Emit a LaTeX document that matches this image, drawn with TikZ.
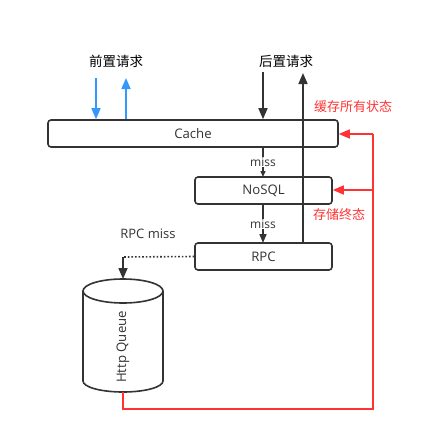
\documentclass[tikz,border=0pt]{standalone}
\usepackage{fontspec}
\setmainfont{Noto Sans CJK SC}
\newfontfamily\lat{Open Sans}
\usetikzlibrary{arrows.meta,shapes.geometric}
\definecolor{dk}{HTML}{333333}
\definecolor{bl}{HTML}{3399FF}
\definecolor{rd}{HTML}{FF3333}
\tikzset{
  box/.style={draw=dk,line width=1.6pt,rounded corners=3pt,inner sep=0pt,font=\lat\fontsize{13.2}{15}\selectfont,text=dk},
  lbl/.style={font=\fontsize{13.5}{16}\selectfont,text=black,inner sep=1pt},
  rlbl/.style={font=\fontsize{13}{15}\selectfont,text=rd,inner sep=1pt},
  mlbl/.style={font=\lat\fontsize{12}{14}\selectfont,text=dk,fill=white,inner sep=1pt},
  bigtip/.style={-{Triangle[length=11pt,width=9pt]}},
  blarrow/.style={draw=bl,line width=1.6pt,bigtip},
  dkarrow/.style={draw=dk,line width=1.6pt,bigtip},
  rdarrow/.style={draw=rd,line width=1.6pt,-{Triangle[length=11pt,width=9pt]}},
}
\begin{document}
\begin{tikzpicture}[x=1pt,y=-1pt]
\useasboundingbox (0,0) rectangle (427,442);
% boxes
\node[box,minimum width=290pt,minimum height=27pt] (cache) at (193,133.5) {Cache};
\node[box,minimum width=137pt,minimum height=27pt] (nosql) at (263.5,190.5) {NoSQL};
\node[box,minimum width=137pt,minimum height=27pt] (rpc) at (263.5,256.5) {RPC};
% cylinder
\draw[dk,line width=1.6pt,fill=white] (83,291) -- (83,381) arc[start angle=180,end angle=0,x radius=40,y radius=11] -- (163,291);
\draw[dk,line width=1.6pt,fill=white] (123,291) ellipse[x radius=40,y radius=12];
\node[rotate=90,font=\lat\fontsize{13.2}{15}\selectfont,text=dk] (hq) at (123,347) {Http Queue};
\coordinate (qtop) at (123,279);
\coordinate (qbot) at (123,392);
% labels
\node[lbl] (pre) at (116,61) {前置请求};
\node[lbl] (post) at (286,61) {后置请求};
\node[rlbl] (allst) at (353,107) {缓存所有状态};
\node[rlbl] (final) at (339,215) {存储终态};
\node[font=\lat\fontsize{13}{15}\selectfont,text=dk] (rpcmiss) at (148,234) {RPC miss};
% blue arrows
\coordinate (b1s) at (96,78);
\coordinate (b2e) at (126,78);
\draw[blarrow] (b1s) -- (b1s |- cache.north);
\draw[blarrow] (b2e |- cache.north) -- (b2e);
% black arrows
\coordinate (k1s) at (263,72);
\coordinate (k2e) at (303,73);
\draw[dkarrow] (k1s) -- (k1s |- cache.north);
\draw[dkarrow] (k2e |- rpc.north) -- (k2e);
% miss arrows
\draw[dk,line width=1.4pt,-{Triangle[length=6pt,width=5pt]}] (263,147) -- (263,177);
\node[mlbl] (m1) at (263,162) {miss};
\draw[dk,line width=1.6pt,-{Triangle[length=9pt,width=7pt]}] (263,204) -- (263,243);
\node[mlbl] (m2) at (263,224) {miss};
% RPC miss
\coordinate (rc) at (123,257);
\draw[dk,line width=1.6pt,dotted] (rpc.west) -- (rc);
\draw[dkarrow] (rc) -- (qtop);
% red feedback
\coordinate (r1) at (123,409);
\coordinate (r2) at (373,409);
\coordinate (r3) at (373,134);
\coordinate (r4) at (373,190);
\draw[rd,line width=1.6pt] (qbot) -- (r1) -- (r2) -- (r3);
\draw[rdarrow] (r3) -- (cache.east |- r3);
\draw[rdarrow] (r4) -- (nosql.east |- r4);
\end{tikzpicture}
\end{document}
